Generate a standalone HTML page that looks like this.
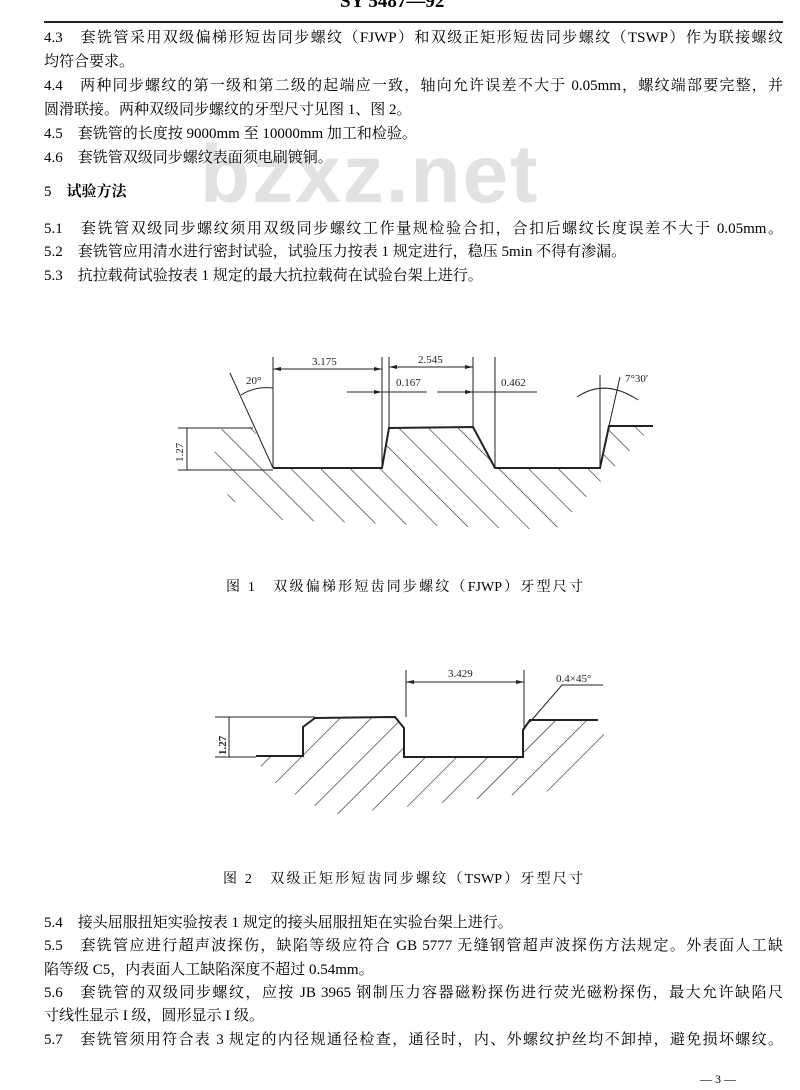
<!DOCTYPE html>
<html><head><meta charset="utf-8">
<style>
body{margin:0;background:#fff;}
#p{position:relative;width:800px;height:1090px;overflow:hidden;background:#fff;font-family:"Liberation Serif","Noto Serif CJK SC","Noto Sans CJK SC",serif;color:#000;}
.l{position:absolute;left:44px;width:739px;font-size:15px;line-height:18px;white-space:nowrap;}
.j{text-align:justify;text-align-last:justify;}
.c{position:absolute;font-size:14px;line-height:16px;white-space:nowrap;text-align:justify;text-align-last:justify;}
.wm{position:absolute;left:200px;top:128px;font-family:"Liberation Sans",sans-serif;font-weight:bold;font-size:82px;color:#e2e2e2;letter-spacing:2px;}
svg{position:absolute;left:0;top:0;}
svg text{font-family:"Liberation Serif",serif;font-size:11px;fill:#222;}
</style></head><body><div id="p">
<div class="wm">bzxz.net</div>
<div style="position:absolute;left:340px;top:-9px;font-size:19px;font-weight:bold;font-family:'Liberation Serif',serif;">SY 5487—92</div>
<div style="position:absolute;left:44px;top:21px;width:739px;height:2px;background:#222;"></div>
<div class="l j" style="top:29px">4.3　套铣管采用双级偏梯形短齿同步螺纹（FJWP）和双级正矩形短齿同步螺纹（TSWP）作为联接螺纹</div>
<div class="l" style="top:53px">均符合要求。</div>
<div class="l j" style="top:77px">4.4　两种同步螺纹的第一级和第二级的起端应一致，轴向允许误差不大于 0.05mm，螺纹端部要完整，并</div>
<div class="l" style="top:101px">圆滑联接。两种双级同步螺纹的牙型尺寸见图 1、图 2。</div>
<div class="l" style="top:125px">4.5　套铣管的长度按 9000mm 至 10000mm 加工和检验。</div>
<div class="l" style="top:149px">4.6　套铣管双级同步螺纹表面须电刷镀铜。</div>
<div class="l" style="top:183px">5　<b>试验方法</b></div>
<div class="l j" style="top:220px">5.1　套铣管双级同步螺纹须用双级同步螺纹工作量规检验合扣，合扣后螺纹长度误差不大于 0.05mm。</div>
<div class="l" style="top:243px">5.2　套铣管应用清水进行密封试验，试验压力按表 1 规定进行，稳压 5min 不得有渗漏。</div>
<div class="l" style="top:267px">5.3　抗拉载荷试验按表 1 规定的最大抗拉载荷在试验台架上进行。</div>

<svg width="800" height="1090" viewBox="0 0 800 1090">
<defs>
<pattern id="h1" width="21" height="21" patternUnits="userSpaceOnUse" patternTransform="rotate(-45)"><line x1="0" y1="0" x2="0" y2="21" stroke="#222" stroke-width="1.2"/></pattern>
<pattern id="h2" width="22" height="22" patternUnits="userSpaceOnUse" patternTransform="rotate(45)"><line x1="0" y1="0" x2="0" y2="22" stroke="#222" stroke-width="1.2"/></pattern>
</defs>
<g stroke="#222" fill="none" stroke-width="1">
<polygon points="212,460 222,428 253,428 273,468 382,468 389,428 473,427 495,468 600,468 609,426 653,426 555,530 280,520 230,500" fill="url(#h1)" stroke="none"/>
<polyline points="178,428 253,428" />
<polyline points="178,470 273,470" />
<line x1="230" y1="373" x2="273" y2="468"/>
<polyline points="273,468 382,468 389,428 473,427 495,468 600,468 609,426 653,426" stroke-width="2"/>
<line x1="187" y1="428" x2="187" y2="470"/>
<line x1="273" y1="357" x2="273" y2="468"/>
<line x1="382" y1="357" x2="382" y2="468"/>
<line x1="389" y1="357" x2="389" y2="428"/>
<line x1="473" y1="357" x2="473" y2="427"/>
<line x1="495" y1="357" x2="495" y2="468"/>
<line x1="273" y1="369" x2="382" y2="369"/>
<line x1="389" y1="367" x2="473" y2="367"/>
<line x1="347" y1="392" x2="427" y2="392"/>
<line x1="437" y1="392" x2="537" y2="392"/>
<path d="M241,395 Q255,386 273,388"/>
<line x1="600" y1="375" x2="600" y2="468"/>
<line x1="620" y1="377" x2="609" y2="426"/>
<path d="M577,397 Q605,378 638,400"/>
<polygon points="255,757 303,757 303,727 315,718 395,717 404,728 404,757 523,757 523,730 530,720 602,720 605,740 560,790 330,815 270,780" fill="url(#h2)" stroke="none"/>
<line x1="215" y1="717" x2="315" y2="717"/>
<line x1="229" y1="717" x2="229" y2="757"/>
<line x1="215" y1="757" x2="256" y2="757"/>
<polyline points="256,756 303,756 303,727 315,718 395,717 404,728 404,757 523,757 523,730 530,720 598,720" stroke-width="2"/>
<line x1="406" y1="670" x2="406" y2="717"/>
<line x1="524" y1="670" x2="524" y2="730"/>
<line x1="406" y1="682" x2="524" y2="682"/>
<polyline points="530,722 562,685 603,685"/>
</g>
<g fill="#222">
<polygon points="273,369 281,367 281,371"/><polygon points="382,369 374,367 374,371"/>
<polygon points="389,367 397,365 397,369"/><polygon points="473,367 465,365 465,369"/>
<polygon points="382,392 374,390 374,394"/><polygon points="473,392 465,390 465,394"/>
<polygon points="406,682 414,680 414,684"/><polygon points="524,682 516,680 516,684"/>
</g>
<text x="312" y="365">3.175</text>
<text x="418" y="363">2.545</text>
<text x="396" y="386">0.167</text>
<text x="501" y="386">0.462</text>
<text x="246" y="384">20°</text>
<text x="625" y="382">7°30′</text>
<text x="183" y="462" transform="rotate(-90 183 462)">1.27</text>
<text x="448" y="677">3.429</text>
<text x="556" y="682">0.4×45°</text>
<text x="226" y="755" transform="rotate(-90 226 755)" font-weight="bold">1.27</text>
</svg>
<div class="c" style="left:226px;top:580px;width:357px;">图 1　双级偏梯形短齿同步螺纹（FJWP）牙型尺寸</div>
<div class="c" style="left:223px;top:872px;width:360px;">图 2　双级正矩形短齿同步螺纹（TSWP）牙型尺寸</div>

<div class="l" style="top:914px">5.4　接头屈服扭矩实验按表 1 规定的接头屈服扭矩在实验台架上进行。</div>
<div class="l j" style="top:937px">5.5　套铣管应进行超声波探伤，缺陷等级应符合 GB 5777 无缝钢管超声波探伤方法规定。外表面人工缺</div>
<div class="l" style="top:961px">陷等级 C5，内表面人工缺陷深度不超过 0.54mm。</div>
<div class="l j" style="top:984px">5.6　套铣管的双级同步螺纹，应按 JB 3965 钢制压力容器磁粉探伤进行荧光磁粉探伤，最大允许缺陷尺</div>
<div class="l" style="top:1007px">寸线性显示 I 级，圆形显示 I 级。</div>
<div class="l j" style="top:1031px">5.7　套铣管须用符合表 3 规定的内径规通径检查，通径时，内、外螺纹护丝均不卸掉，避免损坏螺纹。</div>
<div style="position:absolute;left:700px;top:1072px;font-size:12px;">— 3 —</div>
</div></body></html>
